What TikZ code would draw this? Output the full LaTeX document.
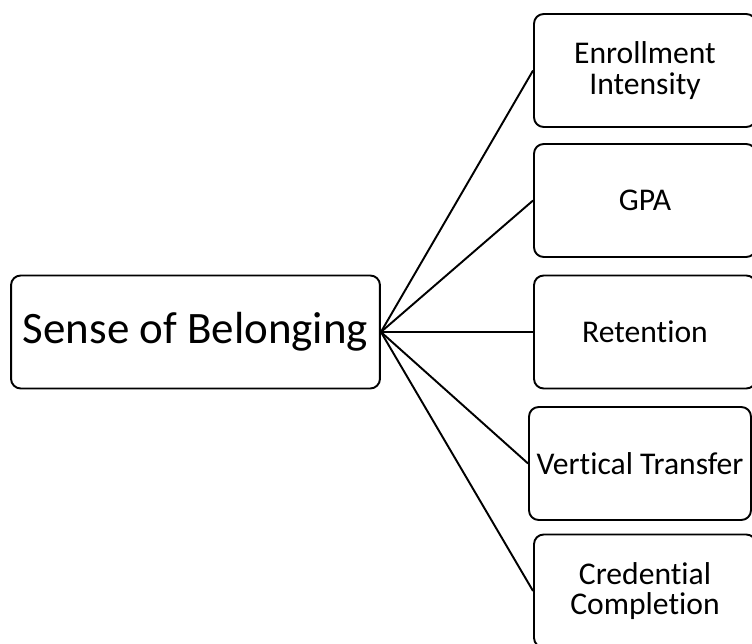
\documentclass[tikz,border=0pt]{standalone}
\usepackage{fontspec}
\setmainfont{Carlito}[Ligatures=NoCommon]
\usetikzlibrary{positioning}

\begin{document}
\begin{tikzpicture}[
  x=0.02cm, y=-0.02cm,
  box/.style={draw,rounded corners=5.5pt,line width=1.1pt,align=center,minimum width=4.44cm,minimum height=2.26cm,font=\fontsize{18}{17.5}\selectfont},
  link/.style={line width=1.1pt}
]
\useasboundingbox (0,0) rectangle (752,644);
\node[box,minimum width=7.38cm,font=\fontsize{25.6}{30}\selectfont] (sob) at (195.5,332) {Sense of Belonging};
\node[box] (enr) at (645,70.5) {Enrollment\\Intensity};
\node[box] (gpa) at (645,200.5) {GPA};
\node[box] (ret) at (645,332) {Retention};
\node[box] (vt) at (640,463.5) {Vertical Transfer};
\node[box] (cc) at (645,591) {Credential\\Completion};
\draw[link] (sob.east) -- (enr.west);
\draw[link] (sob.east) -- (gpa.west);
\draw[link] (sob.east) -- (ret.west);
\draw[link] (sob.east) -- (vt.west);
\draw[link] (sob.east) -- (cc.west);
\end{tikzpicture}
\end{document}
